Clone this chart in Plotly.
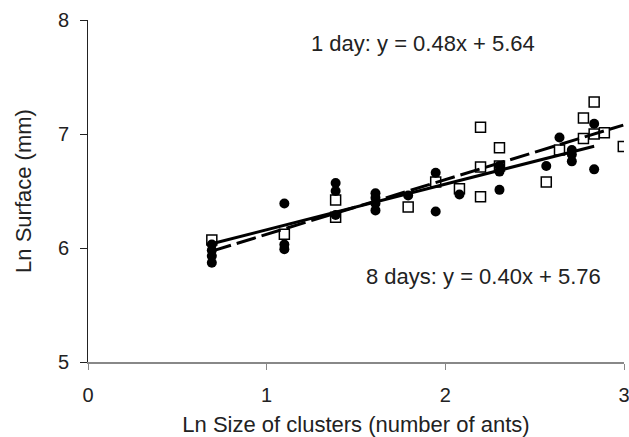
import plotly.graph_objects as go

# 1 day (open squares)
x_1day = [0.693, 1.099, 1.386, 1.386, 1.946, 2.079, 2.197, 2.197, 2.197, 2.303, 2.303,
          2.565, 2.639, 2.773, 2.773, 2.833, 2.833, 2.890, 2.996, 1.792]
y_1day = [6.07, 6.12, 6.42, 6.27, 6.58, 6.52, 7.06, 6.71, 6.45, 6.88, 6.72,
          6.58, 6.86, 7.14, 6.96, 7.28, 7.00, 7.01, 6.89, 6.36]

# 8 days (filled circles)
x_8days = [0.693, 0.693, 0.693, 0.693, 1.099, 1.099, 1.099, 1.386, 1.386, 1.386,
           1.609, 1.609, 1.609, 1.609, 1.792, 1.946, 1.946, 2.079, 2.303, 2.303, 2.303,
           2.565, 2.639, 2.708, 2.708, 2.708, 2.833, 2.833]
y_8days = [6.03, 5.98, 5.93, 5.87, 6.39, 6.03, 5.99, 6.57, 6.50, 6.29,
           6.48, 6.44, 6.39, 6.33, 6.46, 6.66, 6.32, 6.47, 6.72, 6.67, 6.51,
           6.72, 6.97, 6.86, 6.82, 6.76, 7.09, 6.69]

slope_1day, icpt_1day = 0.48, 5.64
slope_8days, icpt_8days = 0.40, 5.76

eq_1day = "1 day: y = 0.48x + 5.64"
eq_8days = "8 days: y = 0.40x + 5.76"

font = "Liberation Sans, Arial, sans-serif"
txt = "#222"

fig = go.Figure()
fig.add_trace(go.Scatter(x=x_1day, y=y_1day, mode="markers",
                         marker=dict(symbol="square-open", size=10, color="black",
                                     line=dict(width=1.5, color="black")),
                         showlegend=False))
fig.add_trace(go.Scatter(x=x_8days, y=y_8days, mode="markers",
                         marker=dict(symbol="circle", size=10, color="black"),
                         showlegend=False))

xs1 = [min(x_1day), max(x_1day)]
fig.add_trace(go.Scatter(x=xs1, y=[slope_1day * v + icpt_1day for v in xs1], mode="lines",
                         line=dict(color="black", width=3, dash="20px,6px"), showlegend=False))
xs8 = [min(x_8days), max(x_8days)]
fig.add_trace(go.Scatter(x=xs8, y=[slope_8days * v + icpt_8days for v in xs8], mode="lines",
                         line=dict(color="black", width=3), showlegend=False))

fig.update_layout(
    width=629, height=437,
    margin=dict(l=88, r=5, t=20, b=75),
    paper_bgcolor="white", plot_bgcolor="white",
    font=dict(family=font, size=20, color=txt),
    annotations=[
        dict(x=1.877, y=7.79, xref="x", yref="y", text=eq_1day,
             showarrow=False, font=dict(family=font, size=22, color=txt)),
        dict(x=2.213, y=5.75, xref="x", yref="y", text=eq_8days,
             showarrow=False, font=dict(family=font, size=22, color=txt)),
    ],
    xaxis=dict(range=[0, 3], tickvals=[0, 1, 2, 3], ticks="outside", ticklen=6,
               tickcolor="#888", showline=True, linecolor="#888", linewidth=2,
               showgrid=False, zeroline=False, automargin=False,
               ticklabeloverflow="allow", ticklabelstandoff=8,
               tickfont=dict(family=font, size=20, color=txt),
               title=dict(text="Ln Size of clusters (number of ants)", standoff=14,
                          font=dict(family=font, size=22, color=txt))),
    yaxis=dict(range=[5, 8], tickvals=[5, 6, 7, 8], ticks="outside", ticklen=7,
               tickcolor="#222", showline=True, linecolor="#222", linewidth=1,
               showgrid=False, zeroline=False, automargin=False,
               ticklabelstandoff=7,
               tickfont=dict(family=font, size=20, color=txt),
               title=dict(text="Ln Surface (mm)", standoff=20,
                          font=dict(family=font, size=22, color=txt))),
)

fig.write_html("out.html")
